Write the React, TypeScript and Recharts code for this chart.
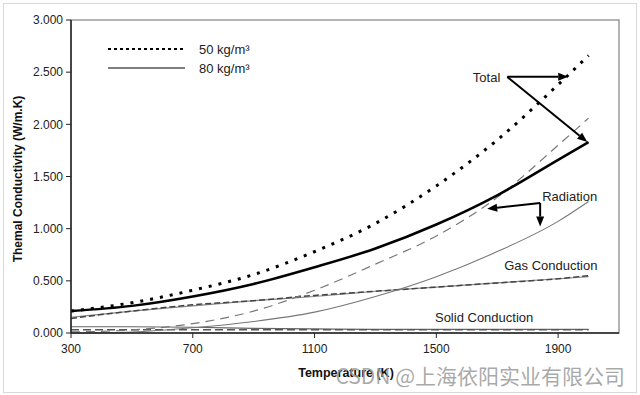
import React from 'react';
import {
  LineChart,
  Line,
  XAxis,
  YAxis,
  ReferenceLine,
  ReferenceDot,
  ReferenceArea,
} from 'recharts';

// ---- data ----
const temperatures = [300, 500, 700, 900, 1100, 1300, 1500, 1700, 1900, 2000];
const total50 = [0.21, 0.29, 0.41, 0.56, 0.78, 1.05, 1.41, 1.85, 2.38, 2.66];
const total80 = [0.21, 0.26, 0.35, 0.47, 0.63, 0.81, 1.04, 1.32, 1.66, 1.83];
const radiation50 = [0.01, 0.03, 0.09, 0.21, 0.41, 0.66, 0.93, 1.3, 1.8, 2.06];
const radiation80 = [0.0, 0.01, 0.05, 0.11, 0.2, 0.35, 0.54, 0.78, 1.07, 1.26];
const gas50 = [0.14, 0.21, 0.27, 0.31, 0.36, 0.4, 0.44, 0.48, 0.52, 0.55];
const gas80 = [0.15, 0.21, 0.26, 0.31, 0.35, 0.4, 0.44, 0.48, 0.52, 0.54];
const solid50 = [0.03, 0.03, 0.03, 0.03, 0.03, 0.03, 0.03, 0.03, 0.03, 0.03];
const solid80 = [0.06, 0.06, 0.055, 0.045, 0.04, 0.035, 0.035, 0.035, 0.035, 0.035];

const xTicks = [300, 700, 1100, 1500, 1900];
const yTicks = [0, 0.5, 1, 1.5, 2, 2.5, 3];

const legendItems = [
  { label: '50 kg/m³', dash: '3 3' },
  { label: '80 kg/m³', dash: '' },
];

const labels = [
  { text: 'Total', x: 1665, y: 2.445 },
  { text: 'Radiation', x: 1938, y: 1.31 },
  { text: 'Gas Conduction', x: 1876, y: 0.65 },
  { text: 'Solid Conduction', x: 1657, y: 0.15 },
];

const arrows = [
  { from: { x: 1733, y: 2.455 }, to: { x: 1933, y: 2.455 } },
  { from: { x: 1733, y: 2.455 }, to: { x: 1996, y: 1.83 } },
  { from: { x: 1841, y: 1.246 }, to: { x: 1667, y: 1.19 } },
  { from: { x: 1841, y: 1.246 }, to: { x: 1841, y: 1.02 } },
];

const data = temperatures.map((t, i) => ({
  t,
  total50: total50[i],
  total80: total80[i],
  radiation50: radiation50[i],
  radiation80: radiation80[i],
  gas50: gas50[i],
  gas80: gas80[i],
  solid50: solid50[i],
  solid80: solid80[i],
}));

const FONT = '"Liberation Sans", Arial, sans-serif';

const ArrowShape = (props: any) => {
  const { x1, y1, x2, y2 } = props;
  const ang = Math.atan2(y2 - y1, x2 - x1);
  const len = 10;
  const w = 4;
  const bx = x2 - len * Math.cos(ang);
  const by = y2 - len * Math.sin(ang);
  const px = -Math.sin(ang) * w;
  const py = Math.cos(ang) * w;
  return (
    <g>
      <line x1={x1} y1={y1} x2={bx} y2={by} stroke="#000" strokeWidth={2} />
      <polygon
        points={`${x2},${y2} ${bx + px},${by + py} ${bx - px},${by - py}`}
        fill="#000"
      />
    </g>
  );
};

const makeLabelShape = (text: string) => (props: any) => (
  <text
    x={props.cx}
    y={props.cy}
    textAnchor="middle"
    dominantBaseline="central"
    fontFamily={FONT}
    fontSize={13}
    fill="#222"
  >
    {text}
  </text>
);

export default function App() {
  return (
    <div style={{ position: 'absolute', left: 0, top: 0, width: 640, height: 395, background: '#fff' }}>
      <div
        style={{
          position: 'absolute',
          left: 3,
          top: 3,
          width: 632,
          height: 388,
          border: '1px solid #d8d8d8',
        }}
      />
      <LineChart
        width={640}
        height={395}
        data={data}
        margin={{ top: 20, right: 21, bottom: 32, left: 11 }}
        style={{ position: 'absolute', left: 0, top: 0 }}
      >
        <ReferenceArea
          x1={300}
          x2={2100}
          y1={0}
          y2={3}
          fill="none"
          stroke="#9a9a9a"
          strokeWidth={1.5}
          ifOverflow="visible"
        />
        <XAxis
          dataKey="t"
          type="number"
          domain={[300, 2100]}
          ticks={xTicks}
          height={30}
          tickSize={5}
          tickMargin={6}
          stroke="#222"
          tick={{ fontFamily: FONT, fontSize: 12, fill: '#222' }}
          axisLine={{ stroke: '#222', strokeWidth: 1.5 }}
          tickLine={{ stroke: '#222' }}
        />
        <YAxis
          type="number"
          domain={[0, 3]}
          ticks={yTicks}
          width={60}
          tickSize={5}
          tickMargin={3}
          tickFormatter={(v: number) => v.toFixed(3)}
          tick={{ fontFamily: FONT, fontSize: 12, fill: '#222' }}
          axisLine={{ stroke: '#222', strokeWidth: 1.5 }}
          tickLine={{ stroke: '#222' }}
        />
        <Line dataKey="solid80" type="monotone" stroke="#666" strokeWidth={1.2} dot={false} isAnimationActive={false} />
        <Line dataKey="solid50" type="monotone" stroke="#555" strokeWidth={1.5} strokeDasharray="8 4" dot={false} isAnimationActive={false} />
        <Line dataKey="gas80" type="monotone" stroke="#888" strokeWidth={1.2} dot={false} isAnimationActive={false} />
        <Line dataKey="gas50" type="monotone" stroke="#444" strokeWidth={1.5} strokeDasharray="6 3" dot={false} isAnimationActive={false} />
        <Line dataKey="radiation80" type="monotone" stroke="#777" strokeWidth={1.1} dot={false} isAnimationActive={false} />
        <Line dataKey="radiation50" type="monotone" stroke="#777" strokeWidth={1.2} strokeDasharray="9 6" dot={false} isAnimationActive={false} />
        <Line dataKey="total80" type="monotone" stroke="#000" strokeWidth={2.5} dot={false} isAnimationActive={false} />
        <Line dataKey="total50" type="monotone" stroke="#000" strokeWidth={3} strokeDasharray="3 7" dot={false} isAnimationActive={false} />
        {arrows.map((a, i) => (
          <ReferenceLine
            key={'a' + i}
            segment={[a.from, a.to]}
            ifOverflow="visible"
            shape={ArrowShape}
          />
        ))}
        {labels.map((l) => (
          <ReferenceDot
            key={l.text}
            x={l.x}
            y={l.y}
            r={0}
            ifOverflow="visible"
            shape={makeLabelShape(l.text)}
          />
        ))}
      </LineChart>
      <svg width={640} height={395} style={{ position: 'absolute', left: 0, top: 0, pointerEvents: 'none' }}>
        {legendItems.map((it, i) => (
          <g key={it.label}>
            <line
              x1={108}
              x2={185}
              y1={49 + i * 19}
              y2={49 + i * 19}
              stroke={i === 0 ? '#000' : '#555'}
              strokeWidth={i === 0 ? 2 : 1.6}
              strokeDasharray={it.dash || undefined}
            />
            <text
              x={199}
              y={49 + i * 19}
              dominantBaseline="central"
              fontFamily={FONT}
              fontSize={13}
              fill="#222"
            >
              {it.label}
            </text>
          </g>
        ))}
        <text
          x={18}
          y={179}
          transform="rotate(-90 18 179)"
          textAnchor="middle"
          dominantBaseline="central"
          fontFamily={FONT}
          fontSize={12}
          fontWeight="bold"
          fill="#111"
        >
          Themal Conductivity (W/m.K)
        </text>
        <text
          x={346}
          y={373}
          textAnchor="middle"
          dominantBaseline="central"
          fontFamily={FONT}
          fontSize={12.5}
          fontWeight="bold"
          fill="#111"
        >
          Temperature (K)
        </text>
        <text
          x={625}
          y={384}
          textAnchor="end"
          fontFamily='"Noto Sans CJK SC", "Noto Sans", sans-serif'
          fontSize={21}
          fill="#9a9a9a"
          fillOpacity={0.85}
        >
          CSDN @上海依阳实业有限公司
        </text>
      </svg>
    </div>
  );
}
